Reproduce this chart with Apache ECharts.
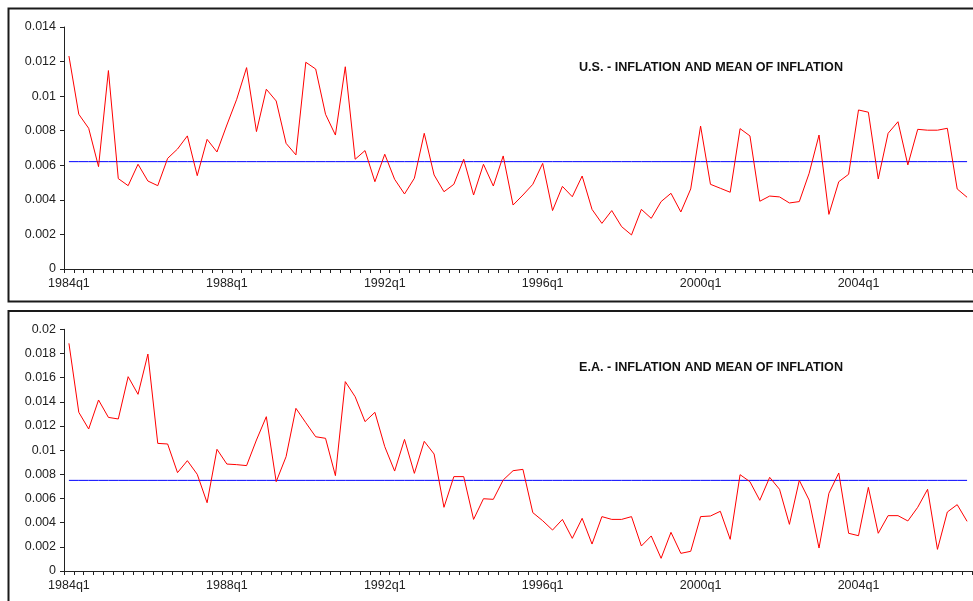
<!DOCTYPE html>
<html>
<head>
<meta charset="utf-8">
<script src="https://cdn.jsdelivr.net/npm/echarts@6/dist/echarts.min.js"></script>
<style>
html,body{margin:0;padding:0;background:#fff;}
#chart{width:973px;height:601px;}
</style>
</head>
<body>
<div id="chart"></div>
<script>
// Quarterly categories 1984q1 .. 2006q4
var startYear = 1984, endYear = 2006;
var categories = [];
for (var y = startYear; y <= endYear; y++) {
  for (var q = 1; q <= 4; q++) categories.push(y + 'q' + q);
}

var usInflation = [
0.01232,0.00895,0.00814,0.00592,0.01148,0.00523,0.00482,0.00606,0.00509,0.00482,
0.0064,0.00694,0.0077,0.0054,0.0075,0.00677,0.00833,0.00982,0.01165,0.00795,
0.0104,0.00972,0.00727,0.0066,0.01196,0.01157,0.00895,0.00775,0.0117,0.00635,
0.00685,0.00505,0.00664,0.00519,0.00434,0.00525,0.00785,0.00544,0.00447,0.0049,
0.00635,0.00428,0.00606,0.0048,0.00654,0.0037,0.00428,0.0049,0.00611,0.00338,
0.00478,0.00418,0.00538,0.00345,0.00264,0.00338,0.00245,0.00197,0.00345,0.00293,
0.0039,0.00438,0.0033,0.00463,0.00827,0.0049,0.00467,0.00444,0.00812,0.0077,
0.00392,0.00422,0.00417,0.00382,0.0039,0.00554,0.00775,0.00316,0.00505,0.00548,
0.0092,0.00907,0.00521,0.00785,0.00852,0.00602,0.00808,0.00803,0.00803,0.00814,
0.00463,0.00415];
var usMean = 0.00621;

var eaInflation = [
0.01884,0.01313,0.01175,0.01415,0.01271,0.01258,0.01608,0.01462,0.01795,0.01056,
0.01051,0.00814,0.00913,0.008,0.00565,0.01007,0.00885,0.0088,0.00872,0.01084,
0.01277,0.00739,0.00946,0.01346,0.01227,0.01111,0.01098,0.00789,0.01567,0.01442,
0.01236,0.01313,0.01029,0.00827,0.01089,0.00808,0.01073,0.00968,0.00527,0.00781,
0.00781,0.00427,0.00598,0.00593,0.00753,0.0083,0.00841,0.00483,0.00416,0.00339,
0.00427,0.0027,0.00436,0.00223,0.0045,0.00427,0.00427,0.0045,0.00207,0.0029,
0.00105,0.0032,0.00146,0.00163,0.0045,0.00455,0.00494,0.00262,0.00797,0.00739,
0.00585,0.00775,0.00676,0.00386,0.0075,0.00587,0.0019,0.00643,0.00811,0.00312,
0.00292,0.00692,0.00312,0.00458,0.00458,0.00414,0.00527,0.00676,0.00179,0.00488,
0.00549,0.00411];
var eaMean = 0.0075;

var titles = ['U.S. - INFLATION AND MEAN OF INFLATION', 'E.A. - INFLATION AND MEAN OF INFLATION'];
var yMax = [0.014, 0.02];
var yStep = 0.002;

var FONT = '"Liberation Sans", Arial, sans-serif';
var AX = '#222';

function xAxisCfg(gi) {
  return {
    type: 'category', gridIndex: gi, data: categories, boundaryGap: true,
    axisLine: {show: true, lineStyle: {color: AX, width: 1}},
    axisTick: {show: true, interval: 0, length: 4, inside: false, lineStyle: {color: AX}},
    axisLabel: {interval: 15, color: AX, fontFamily: FONT, fontSize: 12.5, margin: 8},
    splitLine: {show: false}
  };
}
function yAxisCfg(gi, max) {
  return {
    type: 'value', gridIndex: gi, min: 0, max: max, interval: yStep,
    axisLine: {show: true, lineStyle: {color: AX, width: 1}},
    axisTick: {show: true, length: 4, lineStyle: {color: AX}},
    axisLabel: {color: AX, fontFamily: FONT, fontSize: 12.5, margin: 8,
      formatter: function (v) { return v === 0 ? '0' : String(+v.toFixed(3)); }},
    splitLine: {show: false}
  };
}
function meanSeries(gi, val) {
  return {
    type: 'line', xAxisIndex: gi, yAxisIndex: gi, symbol: 'none', silent: true,
    data: categories.map(function () { return val; }),
    lineStyle: {color: '#0000ff', width: 1}, itemStyle: {color: '#0000ff'}, z: 2
  };
}

var chart = echarts.init(document.getElementById('chart'), null, {renderer: 'canvas'});
chart.setOption({
  animation: false,
  backgroundColor: '#fff',
  title: [
    {text: titles[0], left: 574, top: 56, textStyle: {fontFamily: FONT, fontSize: 12.6, fontWeight: 'bold', color: '#111'}},
    {text: titles[1], left: 574, top: 356, textStyle: {fontFamily: FONT, fontSize: 12.6, fontWeight: 'bold', color: '#111'}}
  ],
  graphic: [
    {type: 'rect', shape: {x: 8.5, y: 8.5, width: 1000, height: 293}, style: {fill: 'none', stroke: '#1a1a1a', lineWidth: 2}, z: -1},
    {type: 'rect', shape: {x: 8.5, y: 311, width: 1000, height: 400}, style: {fill: 'none', stroke: '#1a1a1a', lineWidth: 2}, z: -1}
  ],
  grid: [
    {left: 64, top: 27, width: 908, height: 242},
    {left: 64, top: 329.3, width: 908, height: 241.7}
  ],
  xAxis: [xAxisCfg(0), xAxisCfg(1)],
  yAxis: [yAxisCfg(0, yMax[0]), yAxisCfg(1, yMax[1])],
  series: [
    meanSeries(0, usMean),
    {type: 'line', xAxisIndex: 0, yAxisIndex: 0, data: usInflation, symbol: 'none',
     lineStyle: {color: '#ff0000', width: 1}, itemStyle: {color: '#ff0000'}, z: 3},
    meanSeries(1, eaMean),
    {type: 'line', xAxisIndex: 1, yAxisIndex: 1, data: eaInflation, symbol: 'none',
     lineStyle: {color: '#ff0000', width: 1}, itemStyle: {color: '#ff0000'}, z: 3}
  ]
});
</script>
</body>
</html>
